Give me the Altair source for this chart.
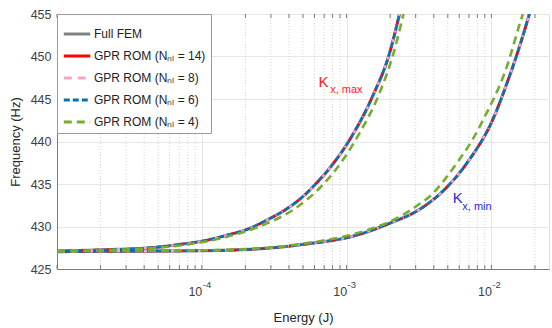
import altair as alt
import pandas as pd

# ---- data ----
series_names = ["Full FEM", "GPR ROM (Nₙₗ = 14)", "GPR ROM (Nₙₗ = 8)",
                "GPR ROM (Nₙₗ = 6)", "GPR ROM (Nₙₗ = 4)"]
series_colors = ["#808080", "#ff0000", "#f4a6c8", "#0072bd", "#77ac30"]
series_dashes = [[1, 0], [1, 0], [8, 6], [6, 3], [8, 5]]

# K_x,max branch (Full FEM / GPR ROM 14, 8, 6 coincide)
e_max = [1.0e-5, 2.0e-5, 4.45e-5, 7.5e-5, 1.02e-4, 1.51e-4, 2.08e-4, 2.85e-4,
         3.8e-4, 5.05e-4, 6.11e-4, 7.75e-4, 1.067e-3, 1.51e-3, 1.98e-3, 2.32e-3]
f_max = [427.1, 427.25, 427.5, 427.95, 428.3, 429.0, 429.7, 430.8,
         432.0, 433.6, 435.0, 437.0, 440.4, 445.3, 450.4, 455.0]
# K_x,min branch
e_min = [1.0e-5, 3.8e-5, 1.0e-4, 2.85e-4, 5.6e-4, 1.07e-3, 2.0e-3, 3.25e-3,
         4.65e-3, 6.8e-3, 1.03e-2, 1.29e-2, 1.58e-2, 1.83e-2]
f_min = [427.05, 427.1, 427.15, 427.45, 428.0, 428.8, 430.4, 432.1,
         434.2, 437.5, 442.7, 447.0, 451.4, 455.0]
# GPR ROM (N_nl = 4)
e_g_max = [1.0e-5, 4.45e-5, 8.0e-5, 1.58e-4, 2.85e-4, 4.31e-4, 6.93e-4,
           9.5e-4, 1.22e-3, 1.66e-3, 2.11e-3, 2.47e-3]
f_g_max = [427.1, 427.45, 427.9, 428.9, 430.4, 432.0, 435.0,
           437.9, 440.9, 445.4, 450.4, 455.0]
e_g_min = [1.0e-5, 1.0e-4, 2.85e-4, 5.6e-4, 9.5e-4, 1.4e-3, 2.24e-3, 3.1e-3,
           3.9e-3, 4.8e-3, 5.9e-3, 7.4e-3, 8.8e-3, 1.29e-2, 1.58e-2, 1.65e-2]
f_g_min = [427.1, 427.2, 427.5, 428.1, 428.8, 429.6, 431.0, 432.5,
           433.8, 435.6, 437.7, 440.2, 442.6, 449.0, 454.0, 455.0]

major_ticks = [1e-4, 1e-3, 1e-2]
major_exps = ["-4", "-3", "-2"]
y_ticks = [425, 430, 435, 440, 445, 450, 455]

ann_text = ["K", "x, max", "K", "x, min"]
ann_e = [6.4e-4, 7.7e-4, 5.4e-3, 6.3e-3]
ann_f = [447.0, 446.1, 433.3, 432.3]
ann_color = ["#ff1a1a", "#ff1a1a", "#2b2bd6", "#2b2bd6"]
ann_size = [15, 11, 15, 11]

# ---- build tables ----
rows = []
for s in series_names:
    if s == series_names[-1]:
        branches = [("max", e_g_max, f_g_max), ("min", e_g_min, f_g_min)]
    else:
        branches = [("max", e_max, f_max), ("min", e_min, f_min)]
    for b, es, fs in branches:
        for e, f in zip(es, fs):
            rows.append({"E": e, "f": f, "series": s, "branch": b})
df = pd.DataFrame(rows)

minor = []
for k in range(-5, -1):
    for m in range(1, 10):
        v = m * 10.0 ** k
        if 1e-5 <= v <= 0.025:
            minor.append({"E": v, "major": m == 1})
df_minor = pd.DataFrame(minor)

df_exp = pd.DataFrame({"E": major_ticks, "t": major_exps})

df_ann = pd.DataFrame({"t": ann_text, "E": ann_e, "f": ann_f,
                       "c": ann_color, "s": ann_size})

W, H = 492, 255
FONT = "Liberation Sans"

xscale = alt.Scale(type="log", domain=[1e-5, 0.025], nice=False)
yscale = alt.Scale(domain=[425, 455], nice=False, zero=False)

color = alt.Color("series:N",
                  scale=alt.Scale(domain=series_names, range=series_colors),
                  legend=alt.Legend(title=None, orient="top-left", offset=0,
                                    symbolType="stroke", symbolSize=700,
                                    symbolStrokeWidth=3, labelFontSize=12,
                                    labelFont=FONT, labelColor="#222222",
                                    fillColor="white", strokeColor="#9a9a9a",
                                    padding=5, rowPadding=1, labelOffset=2,
                                    symbolOpacity=1))
dash = alt.StrokeDash("series:N",
                      scale=alt.Scale(domain=series_names, range=series_dashes),
                      legend=alt.Legend(title=None, orient="top-left"))

xaxis = alt.Axis(values=major_ticks, grid=True, gridColor="#e6e6e6",
                 tickSize=0, ticks=False, labelPadding=16, labelFontSize=12.5,
                 labelFont=FONT, labelColor="#404040", domainColor="#7a7a7a",
                 labelExpr="'10'", labelAlign="right", labelBaseline="top",
                 title="Energy (J)", titleFont=FONT, titleFontSize=13,
                 titleFontWeight="normal", titleColor="#262626", titlePadding=14)
yaxis = alt.Axis(values=y_ticks, grid=True, gridColor="#e6e6e6", tickSize=0,
                 ticks=False, labelPadding=6, labelFontSize=12.5, labelFont=FONT,
                 labelColor="#404040", domainColor="#7a7a7a",
                 title="Frequency (Hz)", titleFont=FONT, titleFontSize=13,
                 titleFontWeight="normal", titleColor="#262626", titlePadding=8)

base_x = alt.X("E:Q", scale=xscale, axis=xaxis)
base_y = alt.Y("f:Q", scale=yscale, axis=yaxis)

minor_grid = alt.Chart(df_minor).transform_filter("!datum.major").mark_rule(
    color="#d4d4d4", strokeDash=[1, 2], strokeWidth=1).encode(
    x=alt.X("E:Q", scale=xscale, axis=xaxis))

tick_bottom = alt.Chart(df_minor).mark_rule(color="#7a7a7a").encode(
    x=alt.X("E:Q", scale=xscale, axis=xaxis),
    y=alt.value(H), y2=alt.value(H - 4))
tick_top = alt.Chart(df_minor).mark_rule(color="#7a7a7a").encode(
    x=alt.X("E:Q", scale=xscale, axis=xaxis),
    y=alt.value(0), y2=alt.value(4))

exps = alt.Chart(df_exp).mark_text(align="left", baseline="top", font=FONT,
                                   fontSize=9.5, color="#404040", dx=1).encode(
    x=alt.X("E:Q", scale=xscale, axis=xaxis),
    y=alt.value(H + 11), text="t:N")

layers = [minor_grid, tick_bottom, tick_top, exps]
widths = [3.2, 2.4, 2.4, 2.4, 2.6]
for s, w in zip(series_names, widths):
    layers.append(
        alt.Chart(df).transform_filter(alt.datum.series == s)
        .mark_line(strokeWidth=w, clip=True, interpolate="monotone")
        .encode(x=base_x, y=base_y, color=color, strokeDash=dash,
                detail="branch:N")
    )

ann = alt.Chart(df_ann).mark_text(align="left", baseline="middle", font=FONT).encode(
    x=alt.X("E:Q", scale=xscale, axis=xaxis),
    y=alt.Y("f:Q", scale=yscale, axis=yaxis),
    text="t:N",
    color=alt.Color("c:N", scale=None),
    size=alt.Size("s:Q", scale=None))
layers.append(ann)

chart = alt.layer(*layers).properties(
    width=W, height=H,
    autosize=alt.AutoSizeParams(type="none"),
    padding={"left": 57, "top": 14, "right": 3, "bottom": 59},
).configure_view(stroke="#7a7a7a", strokeWidth=1).configure(background="white")

chart.save("out.html", embed_options={"renderer": "svg", "actions": False})
